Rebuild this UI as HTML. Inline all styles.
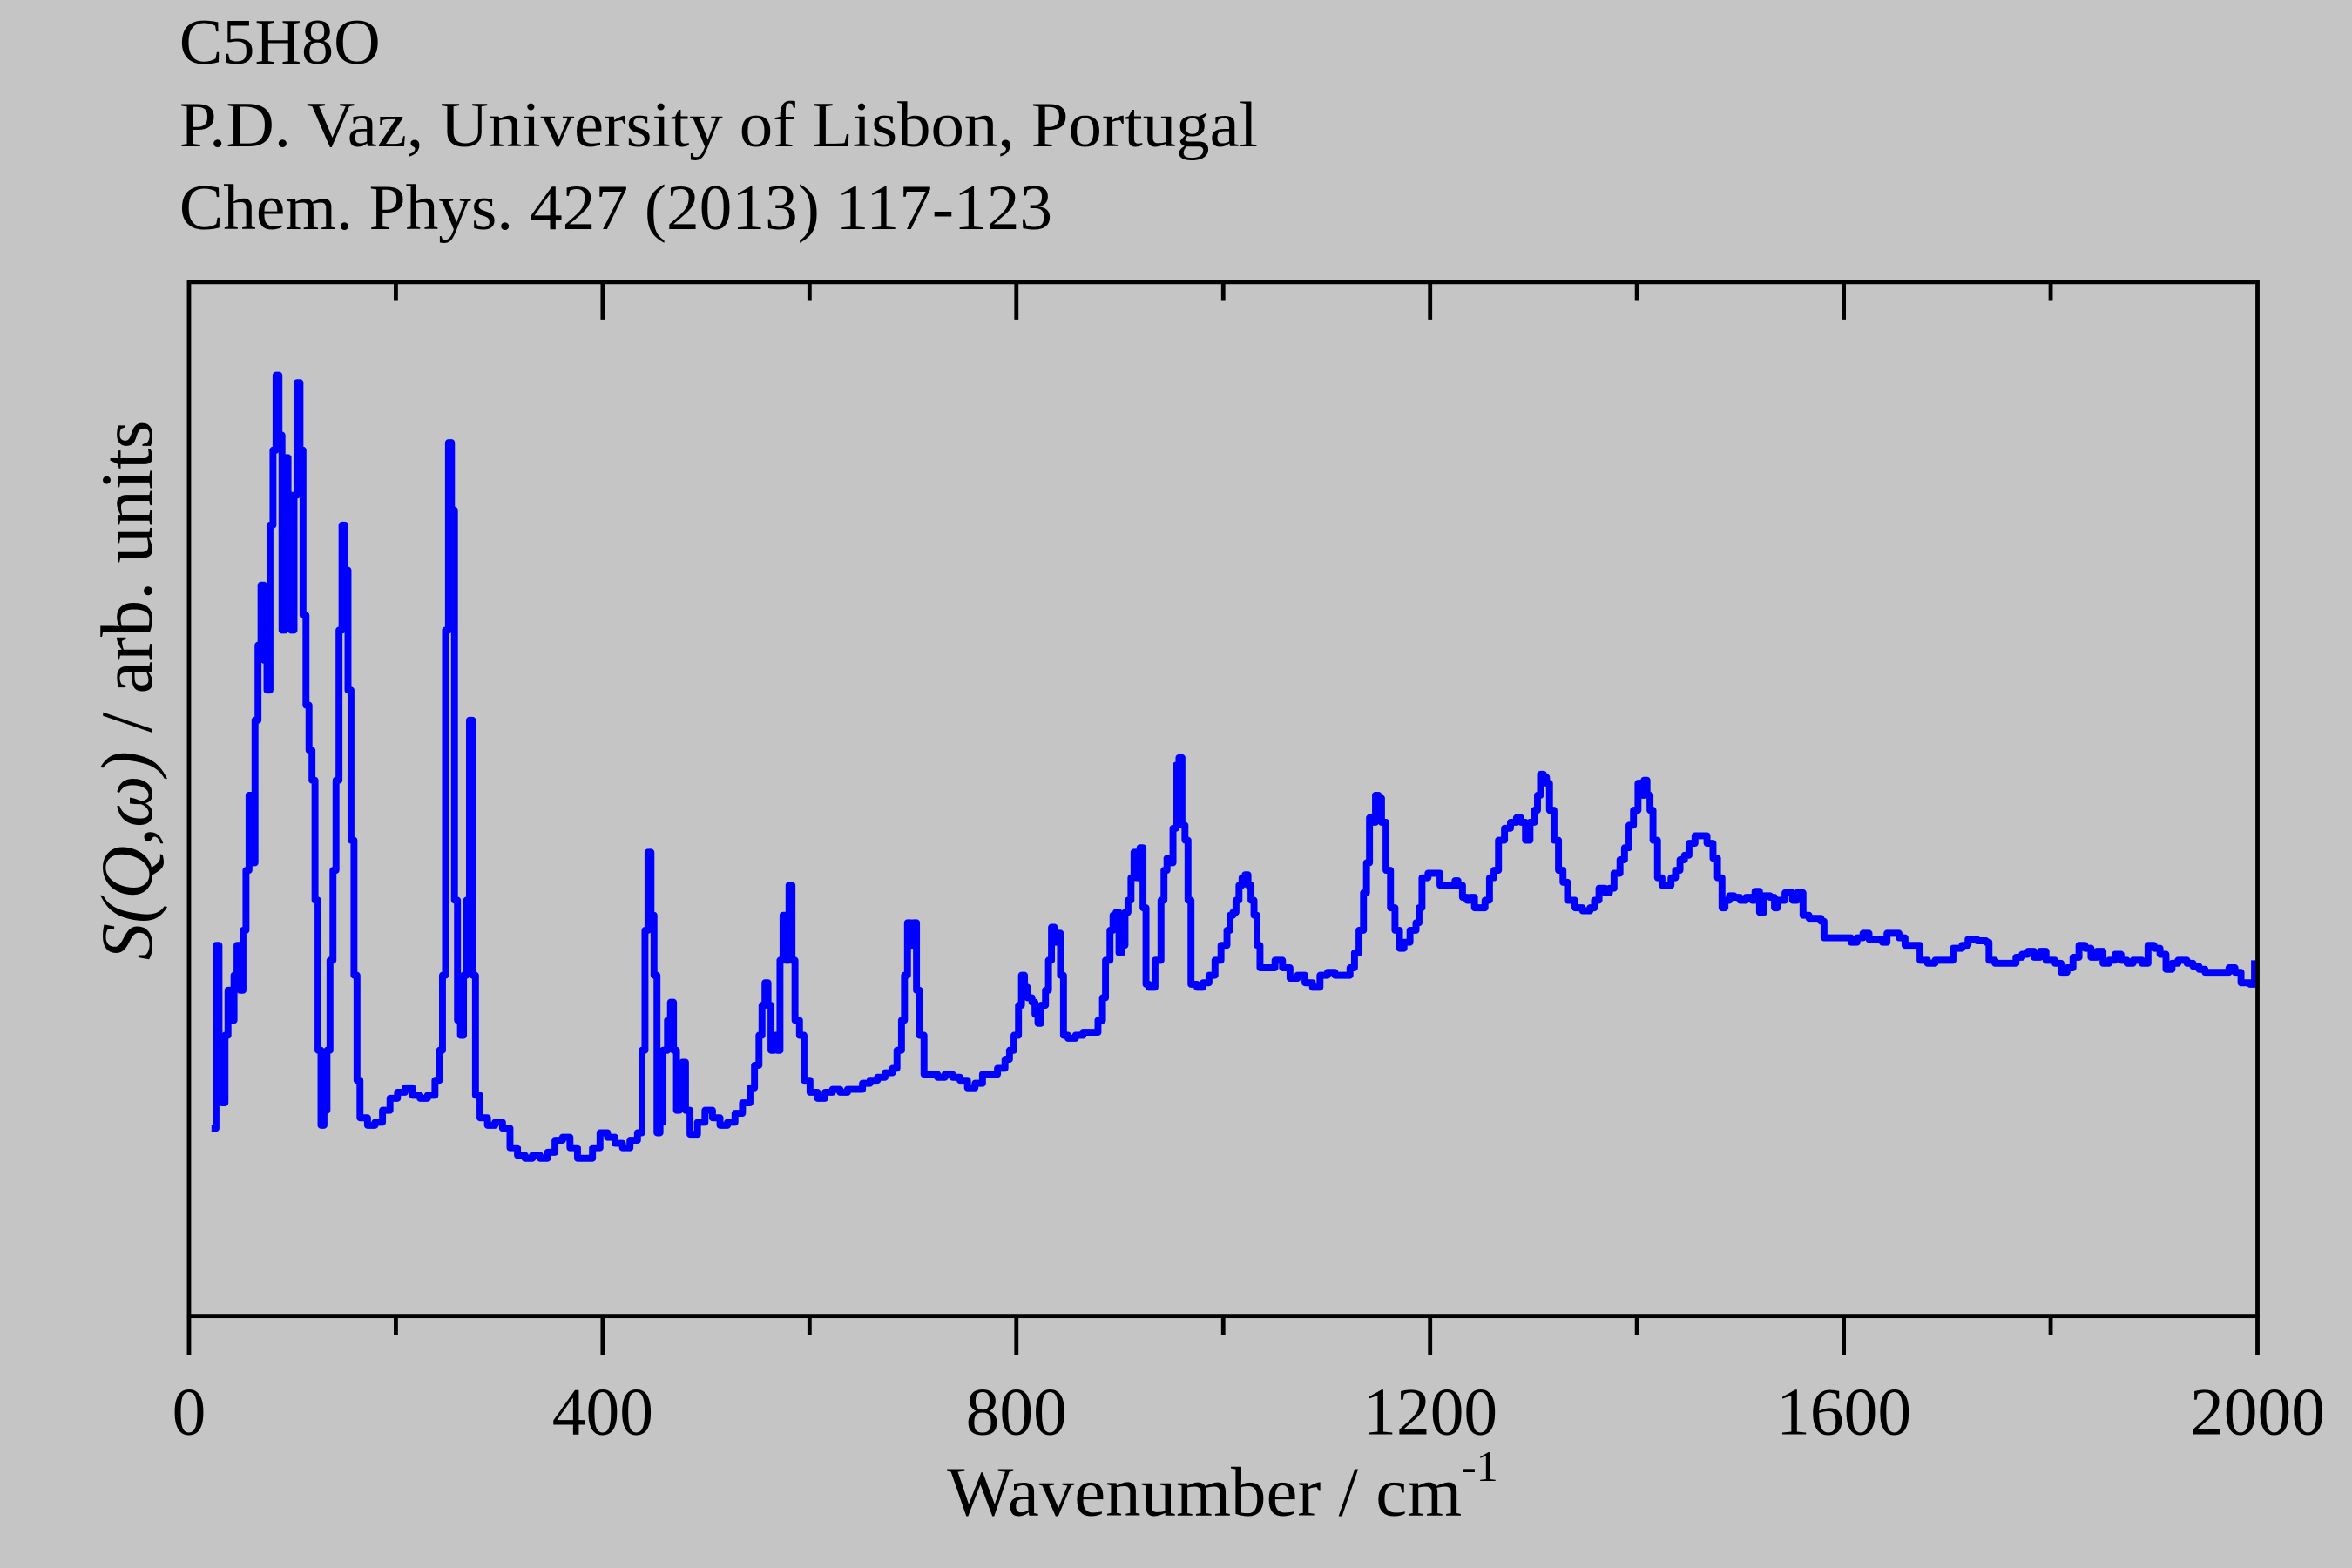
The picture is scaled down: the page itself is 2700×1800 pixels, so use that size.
<!DOCTYPE html>
<html><head><meta charset="utf-8"><style>html,body{margin:0;padding:0;background:#c5c5c5;}svg{display:block}</style></head>
<body>
<svg width="2700" height="1800" viewBox="0 0 1568 1045" preserveAspectRatio="none" xmlns="http://www.w3.org/2000/svg" font-family="'Liberation Serif', serif">
<rect width="1568" height="1045" fill="#c5c5c5"/>
<text x="119.6" y="42.4" font-size="43" textLength="134" lengthAdjust="spacingAndGlyphs">C5H8O</text>
<text x="119.6" y="97.6" font-size="43" textLength="719" lengthAdjust="spacingAndGlyphs">P.D. Vaz, University of Lisbon, Portugal</text>
<text x="119.6" y="152.7" font-size="43" textLength="582" lengthAdjust="spacingAndGlyphs">Chem. Phys. 427 (2013) 117-123</text>
<path fill="none" stroke="#0000ff" stroke-width="4.6" stroke-linejoin="round" d="M141 752 H144 V630 H146 V700 H148 V735 H150 V690 H152 V660 H154 V680 H156 V650 H158 V630 H160 V660 H162 V620 H164 V580 H166 V530 H168 V575 H170 V480 H172 V430 H174 V390 H176 V440 H178 V460 H180 V350 H182 V300 H184 V250 H186 V290 H188 V420 H190 V305 H192 V330 H194 V420 H196 V330 H198 V255 H200 V300 H202 V410 H204 V470 H206 V500 H208 V520 H210 V600 H212 V700 H214 V750 H216 V740 H218 V700 H220 V640 H222 V580 H224 V520 H226 V420 H228 V350 H230 V380 H232 V460 H234 V560 H236 V650 H238 V720 H240 V745 H245 V750 H250 V748 H255 V740 H260 V732 H265 V728 H270 V725 H275 V730 H280 V732 H285 V730 H290 V720 H293 V700 H295 V650 H297 V420 H299 V295 H301 V340 H303 V600 H305 V680 H307 V690 H309 V650 H311 V600 H313 V480 H315 V650 H317 V730 H320 V745 H325 V750 H330 V748 H335 V752 H340 V765 H345 V770 H350 V772 H355 V770 H360 V772 H365 V768 H370 V760 H375 V758 H380 V765 H385 V772 H390 V772 H395 V765 H400 V755 H405 V758 H410 V762 H415 V765 H420 V760 H425 V755 H428 V700 H430 V620 H432 V568 H434 V610 H436 V650 H438 V755 H440 V748 H442 V700 H445 V680 H447 V668 H449 V700 H451 V740 H453 V715 H455 V708 H457 V740 H460 V756 H465 V748 H470 V740 H475 V745 H480 V750 H485 V748 H490 V742 H495 V735 H500 V725 H503 V710 H506 V690 H508 V670 H510 V655 H512 V670 H514 V700 H516 V690 H518 V700 H520 V640 H522 V610 H524 V640 H526 V590 H528 V640 H530 V680 H533 V690 H536 V720 H540 V728 H545 V732 H550 V728 H555 V726 H560 V728 H565 V726 H570 V726 H575 V722 H580 V720 H585 V718 H590 V715 H595 V712 H598 V700 H601 V680 H603 V650 H605 V615 H607 V630 H609 V615 H611 V660 H613 V690 H616 V716 H620 V716 H625 V718 H630 V716 H635 V718 H640 V720 H645 V725 H650 V722 H655 V716 H660 V716 H665 V712 H670 V706 H673 V700 H676 V690 H679 V670 H681 V650 H683 V658 H685 V665 H688 V668 H690 V676 H692 V682 H694 V670 H697 V660 H699 V640 H701 V618 H703 V628 H705 V622 H707 V650 H709 V690 H712 V692 H717 V690 H722 V688 H727 V688 H732 V680 H735 V665 H737 V640 H740 V620 H742 V610 H744 V608 H746 V635 H748 V630 H750 V608 H752 V600 H754 V585 H756 V568 H758 V585 H760 V565 H762 V605 H764 V656 H766 V658 H770 V640 H774 V600 H776 V580 H778 V572 H780 V575 H782 V552 H784 V510 H786 V505 H788 V550 H790 V560 H792 V600 H794 V656 H798 V658 H802 V655 H806 V650 H810 V640 H814 V630 H818 V620 H820 V610 H822 V608 H824 V600 H826 V590 H828 V585 H830 V583 H832 V590 H834 V600 H836 V610 H838 V630 H840 V645 H845 V645 H850 V640 H855 V645 H860 V652 H865 V650 H870 V655 H875 V658 H880 V650 H885 V648 H890 V650 H895 V650 H900 V645 H903 V635 H906 V620 H909 V595 H911 V575 H913 V545 H915 V548 H917 V530 H919 V532 H921 V548 H924 V580 H927 V605 H930 V620 H933 V632 H936 V628 H940 V620 H944 V615 H946 V605 H948 V585 H952 V582 H956 V582 H960 V590 H965 V590 H970 V587 H972 V590 H975 V598 H978 V600 H980 V598 H983 V605 H986 V605 H990 V600 H993 V585 H996 V580 H999 V560 H1003 V552 H1007 V548 H1011 V545 H1014 V548 H1017 V560 H1020 V548 H1023 V540 H1025 V530 H1027 V516 H1029 V518 H1031 V522 H1033 V540 H1036 V560 H1039 V580 H1042 V588 H1045 V600 H1050 V605 H1055 V607 H1060 V605 H1063 V600 H1066 V592 H1070 V595 H1073 V592 H1076 V582 H1080 V573 H1083 V565 H1086 V550 H1089 V540 H1092 V522 H1094 V530 H1096 V520 H1098 V530 H1100 V540 H1102 V560 H1105 V585 H1108 V590 H1111 V590 H1114 V585 H1117 V580 H1120 V573 H1123 V570 H1126 V562 H1130 V557 H1134 V557 H1138 V562 H1142 V572 H1145 V585 H1148 V605 H1150 V600 H1153 V597 H1156 V598 H1160 V600 H1164 V598 H1168 V600 H1170 V594 H1173 V608 H1176 V597 H1180 V598 H1183 V605 H1185 V600 H1190 V595 H1195 V600 H1198 V595 H1202 V610 H1206 V612 H1210 V612 H1214 V614 H1216 V625 H1222 V625 H1228 V625 H1234 V628 H1238 V625 H1242 V622 H1246 V626 H1250 V626 H1255 V628 H1258 V622 H1262 V622 H1266 V625 H1270 V630 H1275 V630 H1278 V630 H1280 V640 H1285 V642 H1290 V640 H1296 V640 H1302 V632 H1308 V630 H1312 V626 H1318 V627 H1324 V628 H1326 V640 H1330 V642 H1335 V642 H1340 V642 H1344 V638 H1348 V636 H1352 V634 H1356 V638 H1360 V634 H1364 V640 H1370 V642 H1374 V648 H1378 V645 H1382 V638 H1386 V630 H1390 V632 H1394 V638 H1398 V634 H1402 V642 H1406 V640 H1410 V636 H1414 V640 H1418 V642 H1422 V640 H1428 V642 H1432 V630 H1436 V632 H1440 V636 H1444 V646 H1448 V642 H1452 V640 H1458 V642 H1462 V644 H1466 V646 H1470 V648 H1476 V648 H1482 V648 H1486 V645 H1490 V648 H1494 V655 H1500 V656 H1503 V640"/>
<g stroke="#000" stroke-width="2.8" fill="none">
<rect x="126" y="188" width="1379" height="689"/>
<path d="M126 877V903 M401.8 877V903 M677.6 877V903 M953.4 877V903 M1229.2 877V903 M1505 877V903 M263.9 877V890 M539.7 877V890 M815.5 877V890 M1091.3 877V890 M1367.1 877V890"/>
<path d="M401.8 188V213 M677.6 188V213 M953.4 188V213 M1229.2 188V213 M263.9 188V200 M539.7 188V200 M815.5 188V200 M1091.3 188V200 M1367.1 188V200"/>
</g>
<g font-size="45" text-anchor="middle" fill="#000">
<text x="126" y="956">0</text>
<text x="401.8" y="956">400</text>
<text x="677.6" y="956">800</text>
<text x="953.4" y="956">1200</text>
<text x="1229.2" y="956">1600</text>
<text x="1505" y="956">2000</text>
</g>
<text x="815" y="1010" font-size="47" text-anchor="middle">Wavenumber / cm<tspan font-size="29" dy="-23">-1</tspan></text>
<text transform="translate(101,460) rotate(-90)" font-size="49" text-anchor="middle"><tspan font-style="italic">S(Q,ω)</tspan> / arb. units</text>
</svg>
</body></html>
